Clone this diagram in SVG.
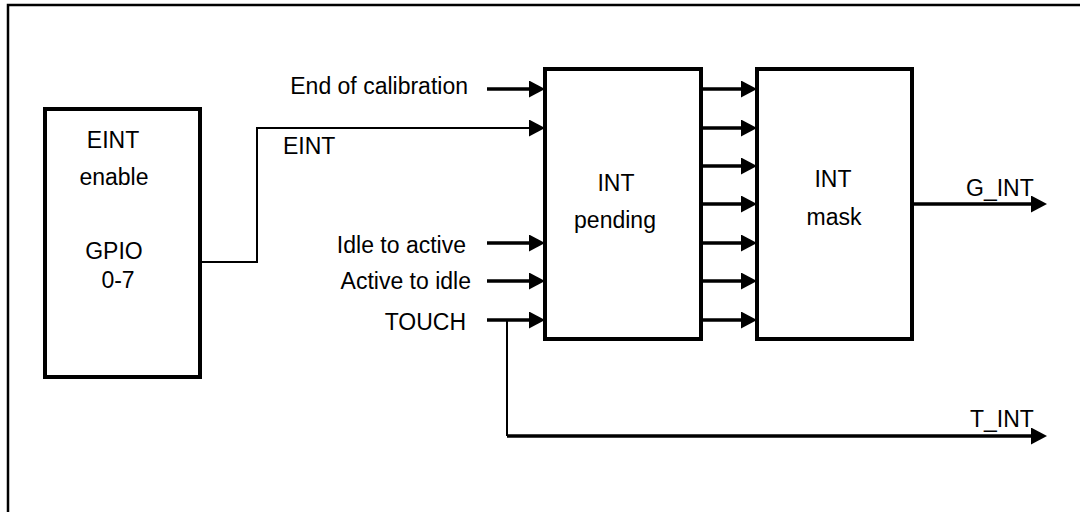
<svg xmlns="http://www.w3.org/2000/svg" width="1080" height="512" viewBox="0 0 1080 512">
<style>
  .box { fill: #fff; stroke: #000; stroke-width: 4; }
  .frame { fill: none; stroke: #000; stroke-width: 2.5; }
  .wire { fill: none; stroke: #000; stroke-width: 3.3; }
  .thin { fill: none; stroke: #000; stroke-width: 2; }
  text { font-family: "Liberation Sans", Arial, sans-serif; font-size: 23px; fill: #000; }
  .mid { text-anchor: middle; }
  .end { text-anchor: end; }
</style>
<defs>
  <marker id="arr" markerUnits="userSpaceOnUse" markerWidth="17" markerHeight="18" refX="4" refY="8.5" orient="auto">
    <path d="M0,0 L16,8.5 L0,17 z" fill="#000"/>
  </marker>
</defs>
<rect width="1080" height="512" fill="#fff"/>
<path class="frame" d="M8,512 V5 H1080"/>

<g id="connectors">
  <path class="wire" d="M487,89 H533" marker-end="url(#arr)"/>
  <path class="thin" d="M200,262 H257 V128 H533" marker-end="url(#arr)"/>
  <path class="wire" d="M487,243 H533" marker-end="url(#arr)"/>
  <path class="wire" d="M487,281 H533" marker-end="url(#arr)"/>
  <path class="wire" d="M487,320 H533" marker-end="url(#arr)"/>
  <path class="wire" d="M701,89 H745" marker-end="url(#arr)"/>
  <path class="wire" d="M701,128 H745" marker-end="url(#arr)"/>
  <path class="wire" d="M701,166 H745" marker-end="url(#arr)"/>
  <path class="wire" d="M701,204 H745" marker-end="url(#arr)"/>
  <path class="wire" d="M701,243 H745" marker-end="url(#arr)"/>
  <path class="wire" d="M701,281 H745" marker-end="url(#arr)"/>
  <path class="wire" d="M701,320 H745" marker-end="url(#arr)"/>
  <path class="wire" d="M912,204 H1035" marker-end="url(#arr)"/>
  <path class="thin" d="M507,320 V436"/>
  <path class="wire" d="M507,436 H1035" marker-end="url(#arr)"/>
  <text x="468" y="94" class="end">End of calibration</text>
  <text x="283" y="154">EINT</text>
  <text x="466" y="253" class="end">Idle to active</text>
  <text x="471" y="289" class="end">Active to idle</text>
  <text x="466" y="330" class="end">TOUCH</text>
  <text x="966" y="196">G_INT</text>
  <text x="970" y="427">T_INT</text>
</g>

<g id="eint-enable">
  <rect class="box" x="45" y="109" width="155" height="268"/>
  <text x="113" y="148" class="mid">EINT</text>
  <text x="114" y="185" class="mid">enable</text>
  <text x="114" y="259" class="mid">GPIO</text>
  <text x="118" y="288" class="mid">0-7</text>
</g>

<g id="int-pending">
  <rect class="box" x="545" y="69" width="156" height="270"/>
  <text x="616" y="191" class="mid">INT</text>
  <text x="615" y="228" class="mid">pending</text>
</g>

<g id="int-mask">
  <rect class="box" x="757" y="69" width="155" height="270"/>
  <text x="833" y="187" class="mid">INT</text>
  <text x="834" y="225" class="mid">mask</text>
</g>
</svg>
